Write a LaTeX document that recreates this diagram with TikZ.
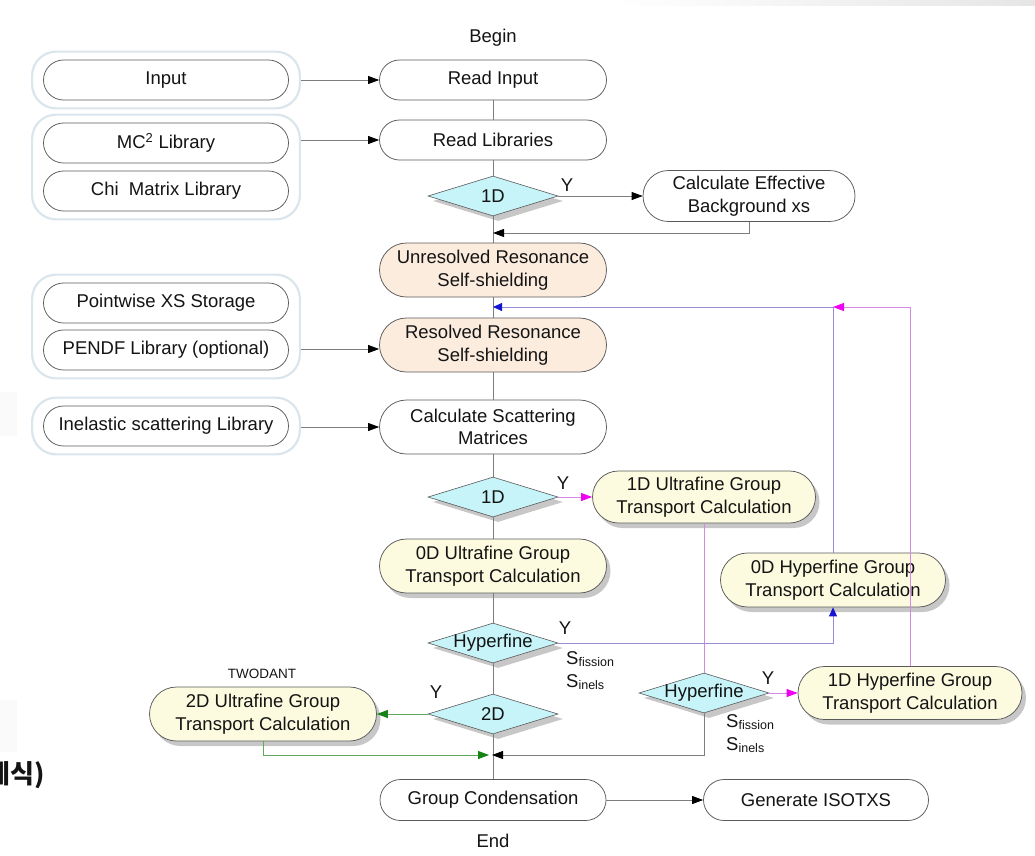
\documentclass[tikz,border=0pt]{standalone}
\usepackage{fontspec}
\setmainfont{Liberation Sans}
\newfontfamily\krfont{Noto Sans CJK KR}
\usetikzlibrary{shapes.misc,shapes.geometric,arrows.meta,shadows,fit,calc}

\definecolor{txt}{RGB}{20,20,20}
\definecolor{edge}{RGB}{90,90,90}
\definecolor{wire}{RGB}{125,125,125}
\definecolor{frame}{RGB}{218,229,236}
\definecolor{peachfill}{RGB}{251,236,222}
\definecolor{creamfill}{RGB}{252,251,224}
\definecolor{cyanfill}{RGB}{198,244,249}
\definecolor{lavwire}{RGB}{150,140,215}
\definecolor{bluetipc}{RGB}{20,20,210}
\definecolor{magwire}{RGB}{215,135,230}
\definecolor{magtipc}{RGB}{240,0,240}
\definecolor{grnwire}{RGB}{95,170,95}
\definecolor{grntipc}{RGB}{20,130,20}

\tikzset{
  base/.style={align=center, text=txt, inner sep=0pt,
    font=\fontsize{18.5}{22.5}\selectfont},
  pill/.style={base, rounded rectangle, draw=edge, line width=0.75pt,
    fill=white, minimum height=40, minimum width=227},
  tall/.style={minimum height=54},
  peach/.style={fill=peachfill},
  cream/.style={fill=creamfill,
    drop shadow={shadow xshift=4pt, shadow yshift=-5pt, fill=black, opacity=0.22}},
  decide/.style={diamond, draw=edge, line width=0.6pt, fill=cyanfill, inner sep=0pt,
    minimum width=130, minimum height=40,
    drop shadow={shadow xshift=5pt, shadow yshift=-5pt, fill=black, opacity=0.22},
    label={[base]center:#1}},
  group/.style={rounded corners=24, draw=frame, line width=2.2pt,
    inner xsep=11, inner ysep=8},
  link/.style={draw=wire, line width=0.8pt},
  tip/.style={-{Triangle[length=11pt,width=8pt,color=black]}},
  bluelink/.style={draw=lavwire, line width=0.8pt,
    -{Triangle[length=9pt,width=8pt,color=bluetipc]}},
  maglink/.style={draw=magwire, line width=0.8pt},
  magtip/.style={-{Triangle[length=11pt,width=8pt,color=magtipc]}},
  grnlink/.style={draw=grnwire, line width=0.8pt,
    -{Triangle[length=11pt,width=8pt,color=grntipc]}},
  ylab/.style={base},
  slab/.style={base, anchor=west}
}

\newcommand{\smallsub}[1]{\raisebox{-2.5pt}{\fontsize{12.5}{12.5}\selectfont #1}}

\begin{document}
\begin{tikzpicture}[x=1pt,y=-1pt]
\useasboundingbox (0,0) rectangle (1035,855);

% faint slide background marks
\shade[left color=white, right color=black!10] (615,0) rectangle (1035,5);
\fill[black!2] (0,392) rectangle (17,436);
\fill[black!2] (0,700) rectangle (17,752);
\node[font=\krfont\bfseries\fontsize{26}{26}\selectfont, text=txt, anchor=east, inner sep=0pt]
  (kr) at (45,775) {단계식)};

% start / end labels
\node[base] (begin) at (493,38) {Begin};
\node[base] (end) at (493,841) {End};

% main column
\node[pill] (readin)  at (493,80)  {Read Input};
\node[pill] (readlib) at (493,140) {Read Libraries};
\node[decide=1D] (d1) at (493,196) {};
\node[pill, minimum width=212, minimum height=51] (calceff) at (749,196)
  {Calculate Effective\\Background xs};
\node[pill, tall, peach] (unres) at (493,270) {Unresolved Resonance\\Self-shielding};
\node[pill, tall, peach] (resolved) at (493,345) {Resolved Resonance\\Self-shielding};
\node[pill, tall] (calcscat) at (493,427) {Calculate Scattering\\Matrices};
\node[decide=1D] (d2) at (493,497) {};
\node[pill, cream, minimum width=223, minimum height=52] (ultra1) at (704,497)
  {1D Ultrafine Group\\Transport Calculation};
\node[pill, tall, cream] (ultra0) at (493,566) {0D Ultrafine Group\\Transport Calculation};
\node[pill, tall, cream, minimum width=225] (hyp0) at (833,580)
  {0D Hyperfine Group\\Transport Calculation};
\node[decide=Hyperfine] (hyp1) at (493,643) {};
\node[decide=Hyperfine] (hypd2) at (704,693) {};
\node[pill, cream, minimum width=224, minimum height=53] (hyp1d) at (910,693)
  {1D Hyperfine Group\\Transport Calculation};
\node[decide=2D] (d2d) at (493,714) {};
\node[pill, tall, cream] (ultra2) at (263,714) {2D Ultrafine Group\\Transport Calculation};
\node[base, font=\fontsize{13.5}{14}\selectfont] (twodant) at (262,674) {TWODANT};
\node[pill, minimum width=226, minimum height=41] (cond) at (493,800) {Group Condensation};
\node[pill, minimum width=225, minimum height=41] (gen) at (816,800) {Generate ISOTXS};

% library inputs
\node[pill, minimum width=245] (input) at (166,80) {Input};
\node[pill, minimum width=245] (mc2) at (166,143) {MC\textsuperscript{2} Library};
\node[pill, minimum width=245] (chi) at (166,191) {Chi\ \ Matrix Library};
\node[pill, minimum width=245] (pw) at (166,303) {Pointwise XS Storage};
\node[pill, minimum width=245] (pendf) at (166,350) {PENDF Library (optional)};
\node[pill, minimum width=245] (inel) at (166,426) {Inelastic scattering Library};
\node[group, fit=(input)] (g1) {};
\node[group, fit=(mc2)(chi)] (g2) {};
\node[group, fit=(pw)(pendf)] (g3) {};
\node[group, fit=(inel)] (g4) {};

% branch labels
\node[ylab] (y1) at (567,185) {Y};
\node[ylab] (y2) at (563,483) {Y};
\node[ylab] (y3) at (565,628) {Y};
\node[ylab] (y4) at (768,678) {Y};
\node[ylab] (y5) at (436,692) {Y};
\node[slab] (s1) at (566,659) {S\smallsub{fission}};
\node[slab] (s2) at (566,682) {S\smallsub{inels}};
\node[slab] (s3) at (726,722) {S\smallsub{fission}};
\node[slab] (s4) at (726,745) {S\smallsub{inels}};

% merge points on the main column
\coordinate (m1) at (493,233);
\coordinate (m2) at (493,307);
\coordinate (k2) at (833,307);
\coordinate (k3) at (910,307);
\coordinate (m3) at (492,755);
\coordinate (m4) at (489,755);

% library feeds
\draw[link,tip] (g1.east) -- (readin.west);
\draw[link,tip] (readlib.west -| g2.east) -- (readlib.west);
\draw[link,tip] ($(resolved.west -| g3.east)+(0,4)$) -- ($(resolved.west)+(0,4)$);
\draw[link,tip] (calcscat.west -| g4.east) -- (calcscat.west);

% main flow
\draw[link] (readin.south) -- (readlib.north);
\draw[link] (readlib.south) -- (d1.north);
\draw[link] (d1.south) -- (unres.north);
\draw[link] (unres.south) -- (resolved.north);
\draw[link] (resolved.south) -- (calcscat.north);
\draw[link] (calcscat.south) -- (d2.north);
\draw[link] (d2.south) -- (ultra0.north);
\draw[link] (ultra0.south) -- (hyp1.north);
\draw[link] (hyp1.south) -- (d2d.north);
\draw[link] (d2d.south) -- (cond.north);

% background xs branch
\draw[link,tip] (d1.east) -- (calceff.west);
\draw[link,tip] (calceff.south) |- (m1);

% ultrafine / hyperfine branches
\draw[maglink,magtip] (d2.east) -- (ultra1.west);
\draw[maglink] (ultra1.south) -- (hypd2.north);
\draw[maglink,magtip] (hypd2.east) -- (hyp1d.west);
\draw[bluelink] (hyp1.east) -| (hyp0.south);
\draw[link,tip] (hypd2.south) |- (m3);
\draw[grnlink] (d2d.west) -- (ultra2.east);
\draw[grnlink] (ultra2.south) |- (m4);

% feedback to resolved resonance
\draw[bluelink] (hyp0.north) -- (k2) -- (m2);
\draw[maglink,magtip] (hyp1d.north) -- (k3) -- (k2);

% output
\draw[link,tip] (cond.east) -- (gen.west);
\end{tikzpicture}
\end{document}
